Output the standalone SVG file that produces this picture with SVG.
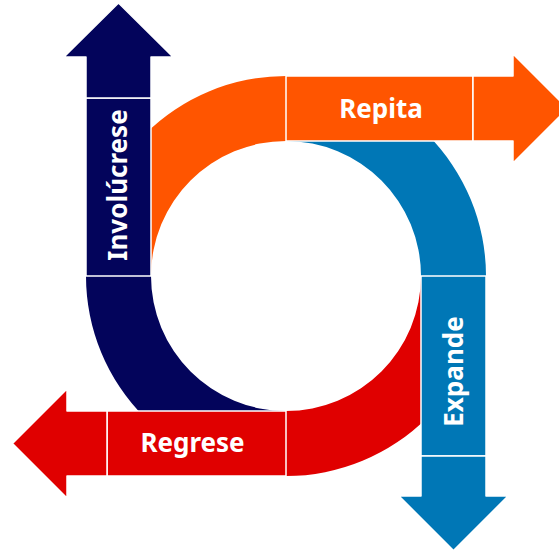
<svg xmlns="http://www.w3.org/2000/svg" width="559" height="550" viewBox="0 0 559 550">
<style>
.lbl{font-family:"Noto Sans","Open Sans","Liberation Sans",sans-serif;font-weight:bold;font-size:26px;fill:#ffffff;text-anchor:middle}
.seg{stroke:#ffffff;stroke-width:1.5;stroke-linejoin:round}
.navy{fill:#03045B}
.orange{fill:#FF5500}
.blue{fill:#0077B6}
.red{fill:#E00000}
</style>
<rect width="559" height="550" fill="#ffffff"/>
<g id="connectors">
<path class="orange" d="M86 276 A200 200 0 0 1 286 76 L286 141 A135 135 0 0 0 151 276 Z"/>
<path class="blue" d="M286 76 A200 200 0 0 1 486 276 L421 276 A135 135 0 0 0 286 141 Z"/>
<path class="red" d="M486 276 A200 200 0 0 1 286 476 L286 411 A135 135 0 0 0 421 276 Z"/>
<path class="navy" d="M286 476 A200 200 0 0 1 86 276 L151 276 A135 135 0 0 0 286 411 Z"/>
</g>
<g id="involucrese">
<rect class="navy seg" x="86" y="98" width="65" height="178"/>
<path class="navy seg" d="M86 98 L86 57 L64 57 L118.5 3 L173 57 L151 57 L151 98 Z"/>
<text class="lbl" transform="translate(127,185) rotate(-90)">Involúcrese</text>
</g>
<g id="repita">
<rect class="orange seg" x="286" y="76" width="187" height="65"/>
<path class="orange seg" d="M473 76 L513 76 L513 54 L567.5 108.5 L513 163 L513 141 L473 141 Z"/>
<text class="lbl" x="381" y="118">Repita</text>
</g>
<g id="expande">
<rect class="blue seg" x="421" y="276" width="65" height="180"/>
<path class="blue seg" d="M421 456 L421 496 L399 496 L453.5 550.5 L508 496 L486 496 L486 456 Z"/>
<text class="lbl" transform="translate(463,371.5) rotate(-90)">Expande</text>
</g>
<g id="regrese">
<rect class="red seg" x="107" y="411" width="179" height="65"/>
<path class="red seg" d="M107 411 L67 411 L67 389 L12.5 443.5 L67 498 L67 476 L107 476 Z"/>
<text class="lbl" x="192.5" y="452">Regrese</text>
</g>
</svg>
